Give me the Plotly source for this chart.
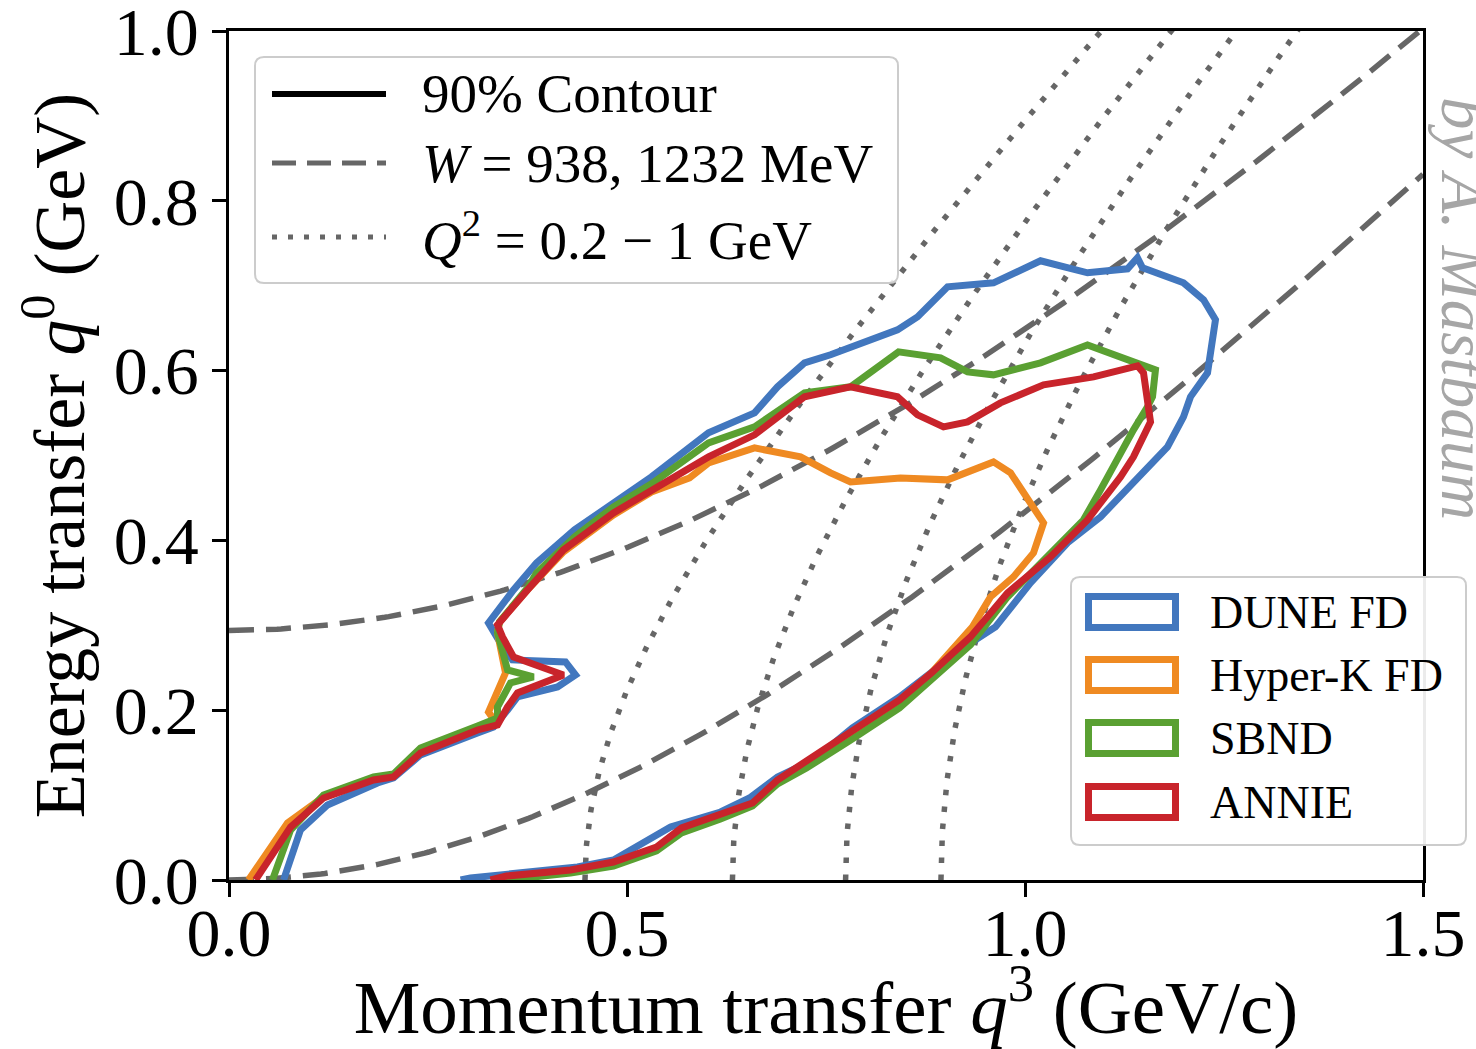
import numpy as np
import plotly.graph_objects as go

# ---------------- data ----------------
# 90% contours: q3 = momentum transfer (GeV/c), q0 = energy transfer (GeV)
dune_q3 = [0.0685, 0.0898, 0.1237, 0.1866, 0.2067, 0.2406, 0.3122, 0.3323, 0.3499, 0.3624,
           0.4127, 0.4353, 0.4227, 0.3561, 0.3386, 0.3260, 0.3574, 0.3863, 0.4341, 0.4830,
           0.5308, 0.6024, 0.6602, 0.6891, 0.7230, 0.7557, 0.8398, 0.8650, 0.9027, 0.9604,
           1.0195, 1.0785, 1.1288, 1.1413, 1.1476, 1.1991, 1.2243, 1.2393, 1.2330, 1.2293,
           1.2079, 1.1991, 1.1790, 1.1363, 1.0949, 1.0534, 1.0069, 0.9629, 0.9315, 0.8863,
           0.8423, 0.7833, 0.7343, 0.6891, 0.6539, 0.6175, 0.5547, 0.4830, 0.4378, 0.3034,
           0.2910]
dune_q0 = [0.0, 0.0589, 0.0884, 0.1143, 0.1202, 0.1473, 0.1732, 0.1803, 0.2003, 0.2156,
           0.2274, 0.2415, 0.2569, 0.2592, 0.2828, 0.3028, 0.3417, 0.3735, 0.4124, 0.4442,
           0.4748, 0.5267, 0.5502, 0.5809, 0.6091, 0.6186, 0.6480, 0.6633, 0.6987, 0.7034,
           0.7293, 0.7152, 0.7199, 0.7329, 0.7211, 0.7034, 0.6834, 0.6598, 0.6127, 0.5973,
           0.5691, 0.5455, 0.5102, 0.4677, 0.4277, 0.3971, 0.3499, 0.2981, 0.2792, 0.2474,
           0.2156, 0.1791, 0.1414, 0.1214, 0.0966, 0.0801, 0.0624, 0.0236, 0.0153, 0.0024,
           0.0]

hyperk_q3 = [0.0245, 0.0735, 0.1188, 0.1816, 0.2067, 0.2406, 0.3122, 0.3348, 0.3260, 0.3386,
             0.3474, 0.3373, 0.3398, 0.3750, 0.4202, 0.4830, 0.5308, 0.5785, 0.6024, 0.6602,
             0.7180, 0.7557, 0.7808, 0.8436, 0.9027, 0.9604, 0.9818, 1.0233, 1.0107, 0.9855,
             0.9566, 0.9340, 0.8963, 0.8825, 0.8423, 0.7795, 0.7255, 0.6891, 0.6576, 0.6175,
             0.5685, 0.5371, 0.4830, 0.4290, 0.3536, 0.3348]
hyperk_q0 = [0.0, 0.0672, 0.0978, 0.1190, 0.1225, 0.1520, 0.1779, 0.1862, 0.1979, 0.2239,
             0.2439, 0.2910, 0.3040, 0.3417, 0.3865, 0.4300, 0.4571, 0.4736, 0.4913, 0.5090,
             0.4984, 0.4795, 0.4689, 0.4736, 0.4713, 0.4925, 0.4795, 0.4206, 0.3853, 0.3570,
             0.3334, 0.2981, 0.2592, 0.2439, 0.2109, 0.1720, 0.1367, 0.1166, 0.0895, 0.0754,
             0.0589, 0.0377, 0.0189, 0.0106, 0.0035, 0.0]

sbnd_q3 = [0.0546, 0.0773, 0.1188, 0.1816, 0.2067, 0.2406, 0.3122, 0.3373, 0.3373, 0.3536,
           0.3825, 0.3499, 0.3373, 0.3398, 0.3750, 0.3863, 0.4341, 0.4830, 0.5308, 0.6024,
           0.6602, 0.7230, 0.7808, 0.8411, 0.8939, 0.9278, 0.9604, 1.0195, 1.0785, 1.1363,
           1.1639, 1.1602, 1.1539, 1.1363, 1.1162, 1.0949, 1.0735, 1.0283, 0.9780, 0.9315,
           0.8825, 0.8423, 0.7795, 0.7255, 0.6891, 0.6576, 0.6175, 0.5685, 0.5371, 0.4830,
           0.4290, 0.3662, 0.3474]
sbnd_q0 = [0.0, 0.0589, 0.1001, 0.1214, 0.1249, 0.1555, 0.1814, 0.1909, 0.2038, 0.2321,
           0.2392, 0.2474, 0.2910, 0.3040, 0.3440, 0.3617, 0.4041, 0.4395, 0.4666, 0.5149,
           0.5337, 0.5738, 0.5809, 0.6221, 0.6150, 0.5985, 0.5950, 0.6091, 0.6303, 0.6103,
           0.6009, 0.5691, 0.5573, 0.5302, 0.4948, 0.4595, 0.4242, 0.3806, 0.3334, 0.2769,
           0.2368, 0.2027, 0.1638, 0.1320, 0.1131, 0.0872, 0.0719, 0.0554, 0.0342, 0.0165,
           0.0082, 0.0024, 0.0]

annie_q3 = [0.0333, 0.0773, 0.1188, 0.1816, 0.2067, 0.2406, 0.3122, 0.3373, 0.3499, 0.3624,
            0.4202, 0.3574, 0.3436, 0.3373, 0.3750, 0.4202, 0.4830, 0.5308, 0.6024, 0.6602,
            0.7230, 0.7808, 0.8398, 0.8650, 0.8976, 0.9278, 0.9692, 1.0233, 1.0861, 1.1414,
            1.1489, 1.1577, 1.1363, 1.1200, 1.0785, 1.0320, 0.9780, 0.9315, 0.8825, 0.8423,
            0.7795, 0.7255, 0.6891, 0.6576, 0.6175, 0.5685, 0.5371, 0.4830, 0.4290, 0.3486,
            0.3285]
annie_q0 = [0.0, 0.0624, 0.0966, 0.1178, 0.1214, 0.1496, 0.1767, 0.1826, 0.2038, 0.2203,
            0.2415, 0.2627, 0.2863, 0.3004, 0.3417, 0.3888, 0.4324, 0.4595, 0.4984, 0.5243,
            0.5691, 0.5809, 0.5691, 0.5479, 0.5337, 0.5396, 0.5620, 0.5832, 0.5926, 0.6056,
            0.5973, 0.5396, 0.4984, 0.4748, 0.4242, 0.3806, 0.3381, 0.2863, 0.2439, 0.2121,
            0.1732, 0.1379, 0.1178, 0.0907, 0.0766, 0.0613, 0.0389, 0.0212, 0.0118, 0.0047,
            0.0]

series_names = ["DUNE FD", "Hyper-K FD", "SBND", "ANNIE"]
series_colors = ["#4277be", "#ef8a22", "#5aa032", "#c8242b"]

# reference curves (parameters given in the legend)
W_values_MeV = [938, 1232]
Q2_values_GeV2 = [0.2, 0.4, 0.6, 0.8]
M_nucleon = 0.938  # GeV

x_ticks = [0.0, 0.5, 1.0, 1.5]
y_ticks = [0.0, 0.2, 0.4, 0.6, 0.8, 1.0]

# ---------------- layout geometry ----------------
W_FIG, H_FIG = 1476, 1049
M_L, M_R, M_T, M_B = 229, 53, 31, 169
PW = W_FIG - M_L - M_R
PH = H_FIG - M_T - M_B
FONT = "Liberation Serif"
GRAY = "#666666"


def px2x(px):
    return (px - M_L) / PW


def px2y(py):
    return (M_T + PH - py) / PH


def rounded_box(x0, y0, x1, y1, r=9):
    rx, ry = r / PW, r / PH
    X0, X1 = px2x(x0), px2x(x1)
    Yt, Yb = px2y(y0), px2y(y1)
    return (f"M{X0 + rx},{Yt} L{X1 - rx},{Yt} Q{X1},{Yt} {X1},{Yt - ry} "
            f"L{X1},{Yb + ry} Q{X1},{Yb} {X1 - rx},{Yb} L{X0 + rx},{Yb} "
            f"Q{X0},{Yb} {X0},{Yb + ry} L{X0},{Yt - ry} Q{X0},{Yt} {X0 + rx},{Yt} Z")


fig = go.Figure()

# W curves: q0 = sqrt(W^2 + q3^2) - M
q3_grid = np.linspace(0, 1.5, 300)
for W in W_values_MeV:
    w = W / 1000.0
    fig.add_trace(go.Scatter(x=q3_grid, y=np.sqrt(w ** 2 + q3_grid ** 2) - M_nucleon,
                             mode="lines", line=dict(color=GRAY, width=5.5, dash="25px,12px"),
                             showlegend=False, hoverinfo="skip"))

# Q^2 curves: q3 = sqrt(Q^2 + q0^2)
q0_grid = np.linspace(0, 1.05, 300)
for Q2 in Q2_values_GeV2:
    fig.add_trace(go.Scatter(x=np.sqrt(Q2 + q0_grid ** 2), y=q0_grid,
                             mode="lines", line=dict(color=GRAY, width=5.5, dash="5.5px,11.5px"),
                             showlegend=False, hoverinfo="skip"))

contours = [(dune_q3, dune_q0), (hyperk_q3, hyperk_q0), (sbnd_q3, sbnd_q0), (annie_q3, annie_q0)]
for (xs, ys), name, col in zip(contours, series_names, series_colors):
    fig.add_trace(go.Scatter(x=xs, y=ys, mode="lines", name=name,
                             line=dict(color=col, width=7), showlegend=False))

shapes = []
annotations = []

# ---- legend 1 (line styles) ----
shapes.append(dict(type="path", xref="paper", yref="paper", path=rounded_box(255, 57, 898, 283),
                   fillcolor="rgba(255,255,255,0.85)", line=dict(color="#cccccc", width=2),
                   layer="above"))
leg1 = [("solid", "black", 6, "90% Contour"),
        ("24px,11px", GRAY, 5, "<i>W</i> = 938, 1232 MeV"),
        ("5px,11px", GRAY, 5, "<i>Q</i><sup>2</sup> = 0.2 \u2212 1 GeV")]
leg1_y = [94, 163, 237]
for (dash, col, wdt, txt), yy in zip(leg1, leg1_y):
    shapes.append(dict(type="line", xref="paper", yref="paper", x0=px2x(272), x1=px2x(386),
                       y0=px2y(yy), y1=px2y(yy), line=dict(color=col, width=wdt, dash=dash),
                       layer="above"))
    annotations.append(dict(xref="paper", yref="paper", x=px2x(420), y=px2y(yy), text=txt,
                            showarrow=False, xanchor="left", yanchor="middle",
                            font=dict(family=FONT, size=55, color="black")))

# ---- legend 2 (series) ----
shapes.append(dict(type="path", xref="paper", yref="paper", path=rounded_box(1071, 577, 1466, 845),
                   fillcolor="rgba(255,255,255,0.92)", line=dict(color="#cccccc", width=2),
                   layer="above"))
leg2_y = [612, 675, 738, 802]
for name, col, yy in zip(series_names, series_colors, leg2_y):
    shapes.append(dict(type="rect", xref="paper", yref="paper",
                       x0=px2x(1088.5), x1=px2x(1175.5), y0=px2y(yy - 15.5), y1=px2y(yy + 15.5),
                       line=dict(color=col, width=7), fillcolor="white", layer="above"))
    annotations.append(dict(xref="paper", yref="paper", x=px2x(1208), y=px2y(yy), text=name,
                            showarrow=False, xanchor="left", yanchor="middle",
                            font=dict(family=FONT, size=46, color="black")))

# ---- watermark ----
annotations.append(dict(xref="paper", yref="paper", x=px2x(1464), y=px2y(308),
                        text="<i>by A. Mastbaum</i>", showarrow=False, textangle=90,
                        xanchor="center", yanchor="middle",
                        font=dict(family=FONT, size=65, color="#a6a6a6")))

axis_common = dict(showline=True, linecolor="black", linewidth=2.5, mirror=True,
                   ticks="outside", ticklen=14, tickwidth=2.5, tickcolor="black",
                   showgrid=False, zeroline=False, ticklabeloverflow="allow",
                   tickfont=dict(family=FONT, size=68, color="black"))

fig.update_layout(
    width=W_FIG, height=H_FIG,
    margin=dict(l=M_L, r=M_R, t=M_T, b=M_B, autoexpand=False),
    paper_bgcolor="white", plot_bgcolor="white",
    showlegend=False,
    shapes=shapes, annotations=annotations,
    xaxis=dict(range=[0, 1.5], tickvals=x_ticks, ticktext=[f"{v:.1f}" for v in x_ticks],
               ticklabelstandoff=-22,
               title=dict(text="Momentum transfer <i>q</i><sup>3</sup> (GeV/c)",
                          font=dict(family=FONT, size=75, color="black"), standoff=19),
               **axis_common),
    yaxis=dict(range=[0, 1.0], tickvals=y_ticks, ticktext=[f"{v:.1f}" for v in y_ticks],
               title=dict(text="Energy transfer <i>q</i><sup>0</sup> (GeV)",
                          font=dict(family=FONT, size=72, color="black"), standoff=6),
               **axis_common),
)

fig.write_html("out.html")
